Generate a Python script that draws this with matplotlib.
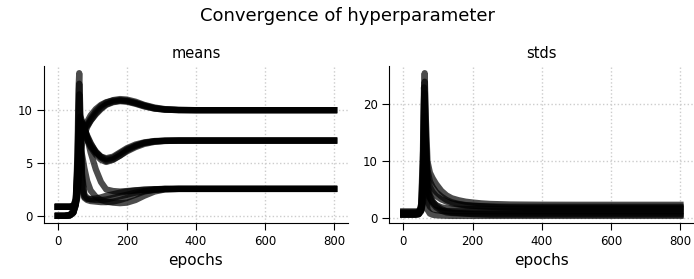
import matplotlib
matplotlib.use("Agg")
import matplotlib.pyplot as plt

plt.rcParams['font.family'] = ['DejaVu Sans']

epochs = [0, 20, 35, 45, 52, 57, 60, 62, 65, 70, 77, 85, 95, 110, 125,
          140, 160, 180, 200, 225, 250, 280, 310, 350, 400, 500, 650, 800]

# means: three hyperparameters, a few runs each
mean_hi = [
    [0.85, 0.85, 0.85, 0.9, 1.2, 2.5, 4.5, 5.8, 7.0, 7.9, 8.4, 8.9, 9.5, 10.1, 10.5,
     10.75, 10.9, 10.95, 10.9, 10.7, 10.45, 10.2, 10.07, 10.02, 10.0, 10.0, 10.0, 10.0],
    [0.0, 0.0, 0.1, 0.5, 1.3, 3.5, 6.5, 8.0, 8.6, 8.4, 8.3, 8.6, 9.2, 9.9, 10.4,
     10.7, 10.95, 11.05, 11.0, 10.8, 10.5, 10.25, 10.1, 10.03, 10.0, 10.0, 10.0, 10.0],
    [0.85, 0.85, 0.85, 0.85, 1.1, 1.8, 3.0, 4.0, 5.5, 6.8, 7.7, 8.4, 9.0, 9.7, 10.2,
     10.55, 10.8, 10.9, 10.85, 10.65, 10.4, 10.15, 10.05, 10.0, 10.0, 10.0, 10.0, 10.0],
    [0.0, 0.0, 0.05, 0.4, 1.2, 3.0, 5.0, 6.5, 7.6, 8.1, 8.2, 8.5, 9.0, 9.6, 10.1,
     10.5, 10.75, 10.85, 10.8, 10.6, 10.35, 10.15, 10.05, 10.0, 10.0, 10.0, 10.0, 10.0],
]
mean_mid = [
    [0.85, 0.85, 0.85, 0.9, 1.5, 4.0, 6.5, 8.0, 9.0, 8.9, 8.3, 7.6, 6.9, 6.0, 5.5,
     5.2, 5.35, 5.7, 6.1, 6.5, 6.8, 7.0, 7.08, 7.12, 7.12, 7.12, 7.12, 7.12],
    [0.0, 0.0, 0.05, 0.3, 1.0, 3.0, 5.5, 7.0, 8.2, 8.5, 8.1, 7.5, 6.8, 6.1, 5.6,
     5.35, 5.5, 5.9, 6.3, 6.65, 6.9, 7.05, 7.1, 7.12, 7.12, 7.12, 7.12, 7.12],
    [0.85, 0.85, 0.85, 0.9, 1.2, 3.5, 7.0, 9.0, 9.4, 9.0, 8.2, 7.3, 6.5, 5.8, 5.3,
     5.1, 5.3, 5.7, 6.2, 6.6, 6.9, 7.05, 7.1, 7.12, 7.12, 7.12, 7.12, 7.12],
    [0.0, 0.0, 0.05, 0.35, 1.2, 3.2, 6.0, 7.5, 8.6, 8.7, 8.0, 7.2, 6.6, 6.0, 5.6,
     5.45, 5.6, 6.0, 6.4, 6.75, 6.95, 7.08, 7.12, 7.12, 7.12, 7.12, 7.12, 7.12],
]
mean_lo = [
    [0.0, 0.0, 0.05, 0.3, 1.5, 6.0, 12.0, 13.5, 10.0, 3.5, 1.8, 1.6, 1.6, 1.65, 1.75,
     1.9, 2.05, 2.2, 2.3, 2.4, 2.47, 2.52, 2.55, 2.55, 2.55, 2.55, 2.55, 2.55],
    [0.85, 0.85, 0.85, 0.9, 1.3, 4.5, 9.0, 11.5, 9.0, 4.0, 2.0, 1.7, 1.55, 1.5, 1.5,
     1.55, 1.7, 1.85, 2.0, 2.2, 2.35, 2.45, 2.52, 2.55, 2.55, 2.55, 2.55, 2.55],
    [0.85, 0.85, 0.85, 0.9, 1.2, 3.0, 5.5, 7.0, 8.3, 8.7, 8.4, 7.4, 6.0, 4.4, 3.2,
     2.5, 2.35, 2.3, 2.35, 2.42, 2.48, 2.52, 2.55, 2.55, 2.55, 2.55, 2.55, 2.55],
    [0.0, 0.0, 0.05, 0.3, 1.0, 2.5, 4.5, 6.0, 6.5, 5.8, 4.5, 3.3, 2.4, 1.8, 1.5,
     1.35, 1.25, 1.2, 1.25, 1.5, 1.9, 2.3, 2.5, 2.55, 2.55, 2.55, 2.55, 2.55],
    [0.85, 0.85, 0.85, 0.95, 1.6, 5.0, 10.0, 12.5, 8.0, 2.5, 1.7, 1.5, 1.4, 1.35, 1.3,
     1.3, 1.35, 1.5, 1.7, 2.0, 2.3, 2.48, 2.55, 2.55, 2.55, 2.55, 2.55, 2.55],
]

# stds
std_runs = [
    [0.6, 0.6, 0.62, 0.7, 1.5, 8.0, 20.0, 25.5, 18.0, 10.0, 8.0, 7.0, 6.0, 4.8, 4.0,
     3.5, 3.15, 2.9, 2.75, 2.6, 2.5, 2.45, 2.4, 2.38, 2.36, 2.35, 2.35, 2.35],
    [1.0, 1.0, 1.0, 1.1, 2.0, 10.0, 21.0, 24.0, 15.0, 7.0, 5.5, 4.6, 3.9, 3.3, 2.9,
     2.6, 2.4, 2.25, 2.15, 2.1, 2.05, 2.02, 2.0, 2.0, 2.0, 2.0, 2.0, 2.0],
    [0.6, 0.6, 0.6, 0.7, 1.5, 6.0, 15.0, 22.0, 14.0, 5.0, 3.5, 2.8, 2.3, 1.9, 1.75,
     1.68, 1.63, 1.6, 1.6, 1.6, 1.6, 1.6, 1.6, 1.6, 1.6, 1.6, 1.6, 1.6],
    [1.0, 1.0, 1.0, 1.1, 1.8, 5.0, 11.0, 18.0, 10.0, 3.0, 2.0, 1.6, 1.4, 1.3, 1.25,
     1.22, 1.2, 1.2, 1.2, 1.2, 1.2, 1.2, 1.2, 1.2, 1.2, 1.2, 1.2, 1.2],
    [0.6, 0.6, 0.6, 0.7, 1.2, 3.0, 7.0, 12.0, 4.5, 1.5, 0.8, 0.6, 0.5, 0.45, 0.42,
     0.4, 0.4, 0.4, 0.4, 0.4, 0.4, 0.4, 0.4, 0.4, 0.4, 0.4, 0.4, 0.4],
    [1.2, 1.2, 1.2, 1.2, 1.5, 2.5, 4.5, 6.0, 5.0, 4.5, 3.6, 2.6, 1.9, 1.3, 1.0,
     0.9, 0.85, 0.82, 0.8, 0.8, 0.8, 0.8, 0.8, 0.8, 0.8, 0.8, 0.8, 0.8],
    [0.8, 0.8, 0.8, 0.9, 2.5, 12.0, 23.0, 21.0, 13.0, 8.5, 6.5, 5.5, 4.6, 3.8, 3.2,
     2.8, 2.5, 2.3, 2.2, 2.1, 2.0, 1.9, 1.85, 1.8, 1.8, 1.8, 1.8, 1.8],
    [0.8, 0.8, 0.8, 0.85, 1.3, 4.0, 9.0, 16.0, 11.0, 6.0, 4.0, 3.0, 2.2, 1.6, 1.2,
     1.0, 0.9, 0.8, 0.7, 0.65, 0.6, 0.6, 0.6, 0.6, 0.6, 0.6, 0.6, 0.6],
]

fig = plt.figure(figsize=(6.94, 2.79), dpi=100)
ax1 = fig.add_axes([0.0634, 0.2007, 0.438, 0.5627])
ax2 = fig.add_axes([0.561, 0.2007, 0.4395, 0.5627])

for run in mean_hi + mean_mid + mean_lo:
    ax1.plot(epochs, run, color='black', lw=4.5, alpha=0.7)
for run in std_runs:
    ax2.plot(epochs, run, color='black', lw=4.5, alpha=0.7)

for ax, name in [(ax1, 'means'), (ax2, 'stds')]:
    ax.set_title(name, fontsize=10.5)
    ax.set_xlabel('epochs', fontsize=11)
    ax.set_xticks([0, 200, 400, 600, 800])
    ax.grid(True, linestyle=':', color='#cccccc', lw=1)
    ax.set_axisbelow(True)
    ax.spines['top'].set_visible(False)
    ax.spines['right'].set_visible(False)
    ax.tick_params(labelsize=8.5, length=5, direction='out')

ax1.set_yticks([0, 5, 10])
ax2.set_yticks([0, 10, 20])

fig.suptitle('Convergence of hyperparameter', fontsize=13, y=0.975)

fig.savefig('out.png', dpi=100)
